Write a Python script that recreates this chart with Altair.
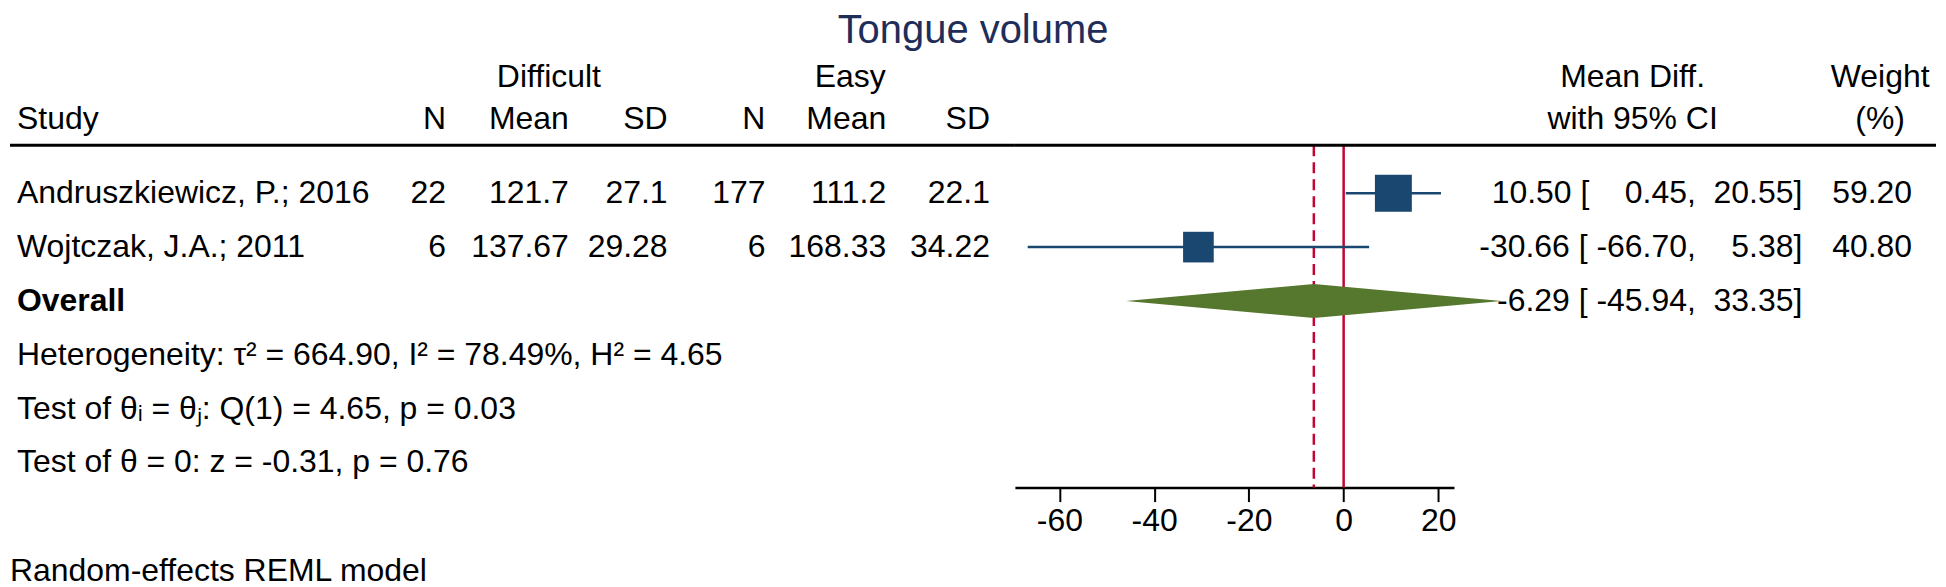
import altair as alt
import pandas as pd

# ---------------- data ----------------
studies = ["Andruszkiewicz, P.; 2016", "Wojtczak, J.A.; 2011"]
n_difficult = [22, 6]
mean_difficult = [121.7, 137.67]
sd_difficult = [27.1, 29.28]
n_easy = [177, 6]
mean_easy = [111.2, 168.33]
sd_easy = [22.1, 34.22]
mean_diff = [10.50, -30.66]
ci_low = [0.45, -66.70]
ci_high = [20.55, 5.38]
weights = [59.20, 40.80]
overall = {"md": -6.29, "lo": -45.94, "hi": 33.35}
stats_lines = [
    "Heterogeneity: \u03c4\u00b2 = 664.90, I\u00b2 = 78.49%, H\u00b2 = 4.65",
    "Test of \u03b8\u1d62 = \u03b8\u2c7c: Q(1) = 4.65, p = 0.03",
    "Test of \u03b8 = 0: z = -0.31, p = 0.76",
]
note_text = "Random-effects REML model"
title_text = "Tongue volume"
x_ticks = [-60, -40, -20, 0, 20]
x_domain = [-69.4, 23.3]

# ---------------- style / layout ----------------
FONT = "Liberation Sans"
FS = 32
TITLE_FS = 40
NAVY = "#1a476f"
RED = "#c10534"
GREEN = "#56772e"
TITLE_COLOR = "#1e2d5a"
PAD_TOP = 2

TOP = 8 + PAD_TOP + TITLE_FS  # page y of panel top
def py(v):
    return v - TOP

PH = 488 - TOP
Y_H1, Y_H2, Y_LINE = py(77), py(119), py(145)
Y_ROWS = [py(193), py(247)]
Y_OV = py(301)
Y_STATS = [py(355), py(409), py(462)]
Y_NOTE = py(572)
DIAMOND_HALF = 17

WA, WB, WC = 1007, 440, 483

yscale = alt.Scale(domain=[0, PH], reverse=True, nice=False, zero=False)
xscale = alt.Scale(domain=x_domain, nice=False, zero=False)

# Liberation Sans advance widths (em) for padding CI strings like Stata
_W = {c: 0.556 for c in "0123456789"}
_W.update({".": 0.278, "-": 0.333, " ": 0.278})
def _w(s):
    return sum(_W.get(c, 0.556) for c in s)

def _pad(s, target):
    n = max(0, round((target - _w(s)) / 0.278))
    return "\u00a0" * n + s

def fmt_ci(md, lo, hi):
    lo_s = f"{lo:.2f}"
    hi_s = f"{hi:.2f}"
    return f"{md:.2f}\u00a0[" + _pad(lo_s, _w(" -66.70")) + ",\u00a0" + _pad(hi_s, _w(" 20.55")) + "]"

rows = pd.DataFrame({
    "study": studies,
    "n1": [str(v) for v in n_difficult],
    "m1": [str(v) for v in mean_difficult],
    "s1": [str(v) for v in sd_difficult],
    "n2": [str(v) for v in n_easy],
    "m2": [str(v) for v in mean_easy],
    "s2": [str(v) for v in sd_easy],
    "md": mean_diff,
    "lo": ci_low,
    "hi": ci_high,
    "w": weights,
    "ci": [fmt_ci(m, l, h) for m, l, h in zip(mean_diff, ci_low, ci_high)],
    "wt": [f"{w:.2f}" for w in weights],
    "y": Y_ROWS,
})


def text_layer(df, field, x, align, bold=False, color="black", size=FS):
    return alt.Chart(df).mark_text(
        align=align, baseline="middle", font=FONT, fontSize=size,
        fontWeight="bold" if bold else "normal", color=color,
    ).encode(
        x=alt.value(x),
        y=alt.Y("y:Q", scale=yscale, axis=None),
        text=alt.Text(f"{field}:N"),
    )


def one(text, y):
    return pd.DataFrame({"t": [text], "y": [y]})


def hline(width):
    return alt.Chart(pd.DataFrame({"y": [Y_LINE]})).mark_rule(
        color="black", strokeWidth=3
    ).encode(
        x=alt.value(0), x2=alt.value(width),
        y=alt.Y("y:Q", scale=yscale, axis=None),
    )

# ---------------- panel A: left table ----------------
colsA = [("n1", "N", 437), ("m1", "Mean", 560), ("s1", "SD", 659),
         ("n2", "N", 757), ("m2", "Mean", 878), ("s2", "SD", 982)]
layersA = [
    hline(WA),
    text_layer(one("Difficult", Y_H1), "t", 540, "center"),
    text_layer(one("Easy", Y_H1), "t", 842, "center"),
    text_layer(one("Study", Y_H2), "t", 7, "left"),
    text_layer(rows, "study", 7, "left"),
    text_layer(one("Overall", Y_OV), "t", 7, "left", bold=True),
    text_layer(pd.DataFrame({"t": stats_lines, "y": Y_STATS}), "t", 7, "left"),
    text_layer(one(note_text, Y_NOTE), "t", 0, "left"),
]
for field, head, x in colsA:
    layersA.append(text_layer(one(head, Y_H2), "t", x, "right"))
    layersA.append(text_layer(rows, field, x, "right"))
panelA = alt.layer(*layersA).properties(width=WA, height=PH)

# ---------------- panel B: forest plot ----------------
xaxis = alt.Axis(values=x_ticks, title=None, grid=False, tickSize=14, tickWidth=2,
                 tickColor="black", domainColor="black", domainWidth=2.5,
                 labelFont=FONT, labelFontSize=FS, labelColor="black",
                 labelPadding=4, labelFlush=False, orient="bottom",
                 labelExpr="'' + datum.value")

zero_line = alt.Chart(pd.DataFrame({"v": [0]})).mark_rule(color=RED, strokeWidth=2.5).encode(
    x=alt.X("v:Q", scale=xscale, axis=xaxis),
    y=alt.value(Y_LINE), y2=alt.value(PH),
)
ov_line = alt.Chart(pd.DataFrame({"v": [overall["md"]]})).mark_rule(
    color=RED, strokeWidth=2.5, strokeDash=[11, 6]
).encode(
    x=alt.X("v:Q", scale=xscale, axis=xaxis),
    y=alt.value(Y_LINE), y2=alt.value(PH),
)
ci_rules = alt.Chart(rows).mark_rule(color=NAVY, strokeWidth=2.5).encode(
    x=alt.X("lo:Q", scale=xscale, axis=xaxis), x2="hi:Q",
    y=alt.Y("y:Q", scale=yscale, axis=None),
)
squares = alt.Chart(rows).mark_square(color=NAVY, opacity=1, filled=True).encode(
    x=alt.X("md:Q", scale=xscale, axis=xaxis),
    y=alt.Y("y:Q", scale=yscale, axis=None),
    size=alt.Size("w:Q", scale=alt.Scale(domain=[0, max(weights)], range=[0, 1369]), legend=None),
)
diamond_df = pd.DataFrame({
    "x": [overall["lo"], overall["md"], overall["hi"]],
    "top": [Y_OV, Y_OV - DIAMOND_HALF, Y_OV],
    "bot": [Y_OV, Y_OV + DIAMOND_HALF, Y_OV],
})
diamond = alt.Chart(diamond_df).mark_area(color=GREEN, opacity=1).encode(
    x=alt.X("x:Q", scale=xscale, axis=xaxis),
    y=alt.Y("top:Q", scale=yscale, axis=None),
    y2="bot:Q",
)
panelB = alt.layer(ov_line, zero_line, ci_rules, squares, diamond, hline(WB)).properties(width=WB, height=PH)

# ---------------- panel C: right table ----------------
ci_all = pd.DataFrame({
    "t": list(rows["ci"]) + [fmt_ci(overall["md"], overall["lo"], overall["hi"])],
    "y": Y_ROWS + [Y_OV],
})
layersC = [
    hline(WC),
    text_layer(one("Mean Diff.", Y_H1), "t", 179, "center"),
    text_layer(one("with 95% CI", Y_H2), "t", 179, "center"),
    text_layer(one("Weight", Y_H1), "t", 427, "center"),
    text_layer(one("(%)", Y_H2), "t", 427, "center"),
    text_layer(ci_all, "t", 349, "right"),
    text_layer(rows, "wt", 459, "right"),
]
panelC = alt.layer(*layersC).properties(width=WC, height=PH)

chart = alt.hconcat(panelA, panelB, panelC, spacing=0, bounds="flush").properties(
    title=alt.TitleParams(title_text, font=FONT, fontSize=TITLE_FS, fontWeight="normal",
                          color=TITLE_COLOR, anchor="middle", offset=0, baseline="top"),
    padding={"left": 0, "top": PAD_TOP, "right": 0, "bottom": 0},
    background="white",
).configure_view(strokeWidth=0, stroke=None)

chart.save("out.html", embed_options={"renderer": "svg", "actions": False})
